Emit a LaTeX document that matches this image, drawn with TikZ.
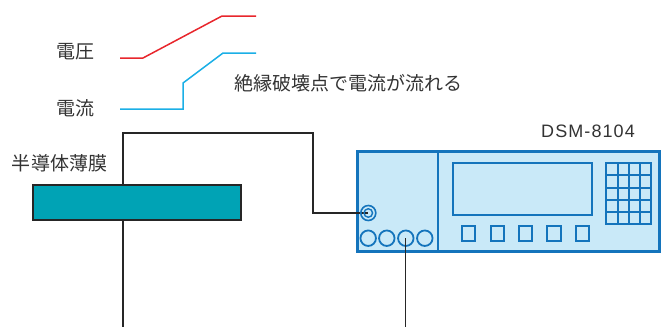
\documentclass[tikz,border=0pt]{standalone}
\usepackage{fontspec}
\setmainfont{Noto Sans CJK JP}
\newfontfamily\modelfont[LetterSpace=6]{Liberation Sans}
\usetikzlibrary{calc}
\definecolor{txtgray}{HTML}{333333}
\definecolor{vred}{HTML}{E8262C}
\definecolor{iblue}{HTML}{1BAFE6}
\definecolor{filmteal}{HTML}{00A3B5}
\definecolor{panelline}{HTML}{1474BC}
\definecolor{panelfill}{HTML}{C9E9F8}
\tikzset{
  lbl/.style={font=\fontsize{19}{22}\selectfont, text=txtgray, inner sep=0pt},
  wave/.style={line width=1.5pt, line join=miter},
  wire/.style={draw=black!85, line width=1.3pt},
  film/.style={draw=black!85, line width=1.6pt, fill=filmteal,
    minimum width=208pt, minimum height=35pt, inner sep=0pt},
  panel/.style={draw=panelline, line width=2.4pt, fill=panelfill,
    minimum width=302pt, minimum height=100pt, inner sep=0pt},
  part/.style={draw=panelline, line width=2pt},
  port/.style={circle, draw=panelline, line width=1.8pt, fill=panelfill,
    minimum size=15.5pt, inner sep=0pt},
  keybox/.style={draw=panelline, line width=2pt, fill=panelfill,
    minimum width=13.5pt, minimum height=15pt, inner sep=0pt},
}
\begin{document}
\begin{tikzpicture}[x=1pt,y=-1pt]
\useasboundingbox (0,0) rectangle (668,327);

% waveform legend
\node[lbl] (vlab) at (75.5,52) {電圧};
\node[lbl] (ilab) at (75.5,108) {電流};
\draw[wave, vred] (120,58) -- (143,58) -- (222,16) -- (256,16);
\draw[wave, iblue] (120,109) -- (183,109) -- (183,83) -- (223,53) -- (256,53);
\node[lbl, anchor=west] (note) at (234,83) {絶縁破壊点で電流が流れる};

% sample film
\node[lbl] (filmlab) at (59.5,163) {半導体薄膜};
\node[film] (film) at (137,202.5) {};

% instrument
\node[lbl, font=\modelfont\fontsize{18}{22}\selectfont, anchor=west] (model) at (541,131) {DSM-8104};
\node[panel] (dev) at (508.3,201.5) {};
\draw[part] (438.3,151) -- (438.3,252);
\draw[part] (452.7,163.3) rectangle (592.3,215);
% keypad
\draw[part] (605.7,163.3) rectangle (650.7,224.3);
\foreach \gx in {618.3,629.3,640} \draw[part] (\gx,163.3) -- (\gx,224.3);
\foreach \gy in {175.3,187.7,200,212.3} \draw[part] (605.7,\gy) -- (650.7,\gy);
% function keys
\foreach \kx [count=\k] in {468.3,497.3,525.7,554,582.3}
  \node[keybox] (key\k) at (\kx,233.2) {};
% front ports
\foreach \px [count=\p] in {368.2,386.8,405.8,424.8}
  \node[port] (port\p) at (\px,238.2) {};

% wiring
\coordinate (topleft) at (123,133);
\coordinate (topright) at (313,133);
\coordinate (bendjack) at (313,213);
\coordinate (jackpos) at (368.3,213);
\draw[wire] (film.north -| topleft) -- (topleft) -- (topright) -- (bendjack) -- (jackpos);
\draw[wire] (film.south -| topleft) -- (topleft |- 0,327);
\draw[wire] (port3.center) -- (port3 |- 0,327);
\node[circle, draw=panelline, line width=1.6pt, minimum size=15pt, inner sep=0pt] (jack) at (jackpos) {};
\node[circle, draw=panelline, line width=1.4pt, minimum size=8.5pt, inner sep=0pt] (jackin) at (jackpos) {};
\end{tikzpicture}
\end{document}
